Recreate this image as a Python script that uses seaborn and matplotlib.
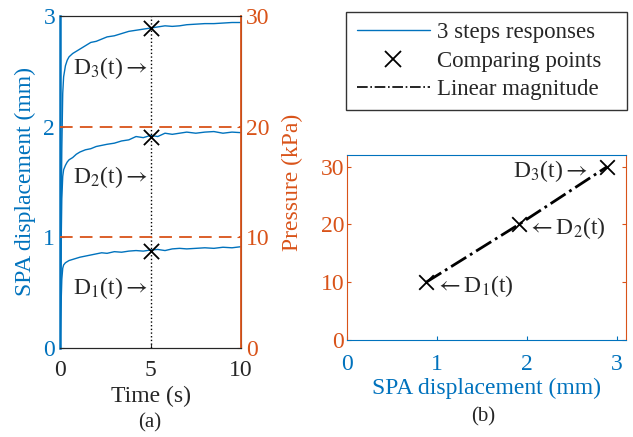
import pandas as pd
import matplotlib.pyplot as plt
import seaborn as sns
from matplotlib.lines import Line2D

# ---------- data ----------
TIME = [0, 0.05, 0.1, 0.15, 0.2, 0.3, 0.4, 0.5, 0.7, 0.9, 1.1, 1.4, 1.7, 2.0, 2.3,
        2.6, 3.0, 3.4, 3.8, 4.2, 4.6, 5.0, 5.4, 5.8, 6.2, 6.6, 7.0, 7.5, 8.0, 8.5,
        9.0, 9.5, 10.0]
D1 = [0, 0.35, 0.62, 0.72, 0.75, 0.77, 0.78, 0.79, 0.80, 0.81, 0.82, 0.83, 0.84,
      0.85, 0.86, 0.855, 0.87, 0.865, 0.875, 0.88, 0.875, 0.885, 0.89, 0.88, 0.895,
      0.90, 0.895, 0.90, 0.905, 0.90, 0.91, 0.905, 0.915]
D2 = [0, 0.8, 1.35, 1.55, 1.61, 1.65, 1.68, 1.70, 1.72, 1.75, 1.77, 1.79, 1.80,
      1.82, 1.83, 1.84, 1.85, 1.87, 1.88, 1.91, 1.90, 1.92, 1.91, 1.94, 1.93,
      1.94, 1.95, 1.94, 1.95, 1.955, 1.94, 1.95, 1.945]
D3 = [0, 1.0, 1.8, 2.3, 2.45, 2.55, 2.60, 2.63, 2.66, 2.68, 2.70, 2.73, 2.76,
      2.77, 2.79, 2.81, 2.82, 2.84, 2.86, 2.87, 2.88, 2.89, 2.90, 2.91, 2.905,
      2.91, 2.92, 2.925, 2.93, 2.93, 2.935, 2.94, 2.94]
PRESSURE = [10, 20, 30]            # kPa steps
COMPARE_T = 5
COMPARE_D = [0.88, 1.91, 2.89]     # displacement at t = 5 s

BLUE = "#0072BD"
ORANGE = "#D95319"

resp = pd.concat([
    pd.DataFrame({"t": TIME, "d": D, "step": i})
    for i, D in enumerate([D1, D2, D3])
])
press = pd.concat([
    pd.DataFrame({"t": [0, 10], "p": [p, p], "step": i})
    for i, p in enumerate(PRESSURE)
])
comp = pd.DataFrame({"d": COMPARE_D, "p": PRESSURE, "t": COMPARE_T})

# ---------- style ----------
sns.set_style("ticks")
plt.rcParams["font.family"] = ["Liberation Serif", "DejaVu Serif"]
plt.rcParams["mathtext.fontset"] = "stix"
plt.rcParams["xtick.direction"] = "in"
plt.rcParams["ytick.direction"] = "in"
plt.rcParams["xtick.major.size"] = 3
plt.rcParams["ytick.major.size"] = 3
FS = 17
ARR = r"$\rightarrow$"
ARL = r"$\leftarrow$"

fig = plt.figure(figsize=(6.33, 4.37), dpi=100)

# ---------- (a) time responses ----------
ax1 = fig.add_axes([0.0948, 0.2037, 0.286, 0.760])
sns.lineplot(data=resp, x="t", y="d", units="step", estimator=None,
             color=BLUE, lw=1, ax=ax1, legend=False)
ax1.axvline(COMPARE_T, color="k", ls=":", lw=1)
sns.scatterplot(data=comp, x="t", y="d", marker="x", color="k", s=120,
                linewidth=1.3, ax=ax1, legend=False, zorder=5)
ax1.set_xlim(0, 10)
ax1.set_ylim(0, 3)
ax1.set_xticks([0, 5, 10])
ax1.set_yticks([0, 1, 2, 3])
ax1.set_xlabel("Time (s)", fontsize=FS, labelpad=3)
ax1.set_ylabel("SPA displacement (mm)", fontsize=FS, color=BLUE, labelpad=5)
ax1.tick_params(axis="y", colors=BLUE, labelsize=FS)
ax1.tick_params(axis="x", labelsize=FS, pad=9)
ax1.spines["left"].set_color(BLUE)
ax1.spines["left"].set_linewidth(1.8)

for yv, k in zip([0.54, 1.54, 2.53], [1, 2, 3]):
    ax1.text(0.7, yv, f"D$_{k}$(t){ARR}", fontsize=FS, va="center", ha="left")

ax2 = ax1.twinx()
sns.lineplot(data=press, x="t", y="p", units="step", estimator=None,
             color=ORANGE, lw=1.3, ax=ax2, legend=False)
for line in ax2.get_lines():
    line.set_linestyle((0, (7, 4)))
ax2.set_ylim(0, 30)
ax2.set_yticks([0, 10, 20, 30])
ax2.set_ylabel("Pressure (kPa)", fontsize=FS, color=ORANGE, labelpad=9)
ax2.tick_params(axis="y", colors=ORANGE, labelsize=FS)
ax2.spines["right"].set_color(ORANGE)
ax2.spines["right"].set_linewidth(1.3)
ax2.spines["left"].set_visible(False)

# ---------- (b) displacement vs pressure ----------
ax3 = fig.add_axes([0.548, 0.222, 0.441, 0.423])
ax3.plot(COMPARE_D, PRESSURE, color="k", ls="-.", lw=2)
sns.scatterplot(data=comp, x="d", y="p", marker="x", color="k", s=110,
                linewidth=1.3, ax=ax3, legend=False, zorder=5)
ax3.set_xlim(0, 3.1)
ax3.set_ylim(0, 32)
ax3.set_xticks([0, 1, 2, 3])
ax3.set_yticks([0, 10, 20, 30])
ax3.set_xlabel("SPA displacement (mm)", fontsize=FS, color=BLUE, labelpad=2)
ax3.set_ylabel("")
ax3.tick_params(axis="x", colors=BLUE, labelsize=FS, pad=10)
ax3.tick_params(axis="y", colors=ORANGE, labelsize=FS, right=True, pad=2)
for s in ["left", "right"]:
    ax3.spines[s].set_color(ORANGE)
for s in ["top", "bottom"]:
    ax3.spines[s].set_color(BLUE)

ax3.text(2.68, 29.3, f"D$_3$(t){ARR}", fontsize=FS, ha="right", va="center")
ax3.text(2.0, 19.3, f"{ARL}D$_2$(t)", fontsize=FS, ha="left", va="center")
ax3.text(0.98, 9.3, f"{ARL}D$_1$(t)", fontsize=FS, ha="left", va="center")

# ---------- legend ----------
handles = [
    Line2D([], [], color=BLUE, lw=1),
    Line2D([], [], color="k", marker="x", ls="none", markersize=11, mew=1.3),
    Line2D([], [], color="k", ls="-.", lw=1.2),
]
labels = ["3 steps responses", "Comparing points", "Linear magnitude"]
leg = fig.legend(handles, labels, loc="upper left",
                 bbox_to_anchor=(0.547, 0.744, 0.443, 0.229), mode="expand",
                 fontsize=16.5, frameon=True, fancybox=False, edgecolor="k",
                 handlelength=3.2, borderaxespad=0, labelspacing=0.32,
                 handletextpad=0.3, borderpad=0.45)
leg.get_frame().set_linewidth(1)

fig.text(150 / 633, 1 - 423 / 437, "(a)", fontsize=15, ha="center", va="center")
fig.text(483 / 633, 1 - 417 / 437, "(b)", fontsize=15, ha="center", va="center")

fig.savefig("out.png", dpi=100)
